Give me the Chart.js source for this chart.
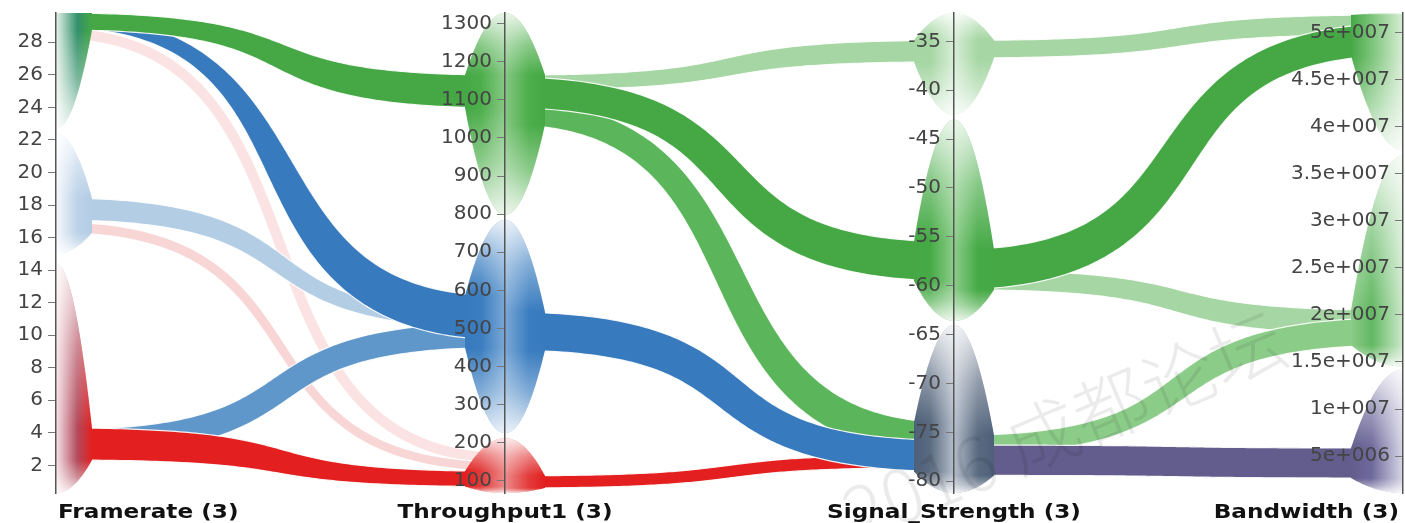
<!DOCTYPE html>
<html>
<head>
<meta charset="utf-8">
<script src="https://cdn.jsdelivr.net/npm/chart.js@4.4.1/dist/chart.umd.min.js"></script>
<style>
  html, body { margin: 0; padding: 0; background: #fff; }
  #wrap { width: 1405px; height: 523px; }
</style>
</head>
<body>
<div id="wrap"><canvas id="myChart"></canvas></div>
<script>
  // axes
  const dims = ['Framerate (3)', 'Throughput1 (3)', 'Signal_Strength (3)', 'Bandwidth (3)'];
  const axisMin = [0.3, 68, -81.2, 1.07e6];
  const axisMax = [29.8, 1328, -32.1, 5.21e7];

  const framerateTicks = [2, 4, 6, 8, 10, 12, 14, 16, 18, 20, 22, 24, 26, 28];
  const throughputTicks = [100, 200, 300, 400, 500, 600, 700, 800, 900, 1000, 1100, 1200, 1300];
  const signalTicks = [-80, -75, -70, -65, -60, -55, -50, -45, -40, -35];
  const bandwidthTicks = [5e6, 1e7, 1.5e7, 2e7, 2.5e7, 3e7, 3.5e7, 4e7, 4.5e7, 5e7];

  // clusters on each axis: [range low, range high, left neck [lo, hi], right neck [lo, hi]]
  const framerateClusters = [
    [22.7, 29.8, null, [28.76, 29.8]],
    [15.0, 22.4, null, [16.3, 18.43]],
    [0.3, 14.4, null, [2.33, 4.30]]
  ];
  const throughputClusters = [
    [798, 1328, [1079, 1165], [1035, 1165]],
    [225, 785, [450, 585], [443, 543]],
    [68, 212, [85, 125], [81, 113]]
  ];
  const signalClusters = [
    [-42.5, -32.1, [-37.1, -34.9], [-36.7, -34.9]],
    [-63.6, -43.0, [-59.5, -55.5], [-60.4, -56.3]],
    [-81.2, -64.0, [-79.0, -74.0], [-79.4, -75.3]]
  ];
  const bandwidthClusters = [
    [3.75e7, 5.21e7, [4.76e7, 5.19e7], null],
    [1.45e7, 3.70e7, [1.68e7, 2.05e7], null],
    [1.07e6, 1.42e7, [2.66e6, 5.85e6], null]
  ];

  // ribbons between neighbouring axes: [left lo, left hi, right lo, right hi]
  const framerateToThroughput = [
    [28.2, 28.9, 145, 175],
    [16.3, 16.95, 125, 150],
    [17.08, 18.43, 500, 540],
    [2.6, 4.2, 450, 515],
    [28.9, 29.7, 470, 585],
    [2.33, 4.30, 85, 125],
    [28.76, 29.8, 1079, 1165]
  ];
  const throughputToSignal = [
    [81, 113, -78.6, -77.3],
    [1035, 1100, -77.5, -74.0],
    [443, 543, -79.0, -75.8],
    [1126, 1165, -37.1, -34.9],
    [1079, 1160, -59.5, -55.5]
  ];
  const signalToBandwidth = [
    [-36.7, -34.9, 4.98e7, 5.19e7],
    [-60.4, -58.4, 1.79e7, 2.05e7],
    [-77.3, -75.3, 1.68e7, 1.97e7],
    [-79.4, -76.3, 2.66e6, 5.85e6],
    [-60.4, -56.3, 4.76e7, 5.10e7]
  ];

  const bandSets = [framerateToThroughput, throughputToSignal, signalToBandwidth];
  const bandColors = [
    ['#fbe3e3', '#f8d6d6', '#b3cde5', '#5f97ca', '#377abd', '#e3201f', '#45a845'],
    ['#e3201f', '#5bb55b', '#377abd', '#a5d6a3', '#45a845'],
    ['#a5d6a3', '#a5d6a3', '#8ccc89', '#625d8c', '#45a845']
  ];
  const clusterSets = [framerateClusters, throughputClusters, signalClusters, bandwidthClusters];
  // [near axis, middle, at neck]
  const clusterColors = [
    [['#e6f2ec', '#32906a', '#45a845'], ['#f6f8fc', '#bcd2e8', '#b3cde5'], ['#f6e2e7', '#b24a5c', '#e3201f']],
    [['#86c884', '#4cae4a', '#45a845'], ['#7aa8d6', '#3a7dc0', '#377abd'], ['#ee8a8a', '#e23a3a', '#e3201f']],
    [['#d8eed7', '#a5d6a3', '#a5d6a3'], ['#8ccd8a', '#45aa45', '#45a845'], ['#b4bdca', '#5a6a80', '#4d607a']],
    [['#d8eed6', '#7cc47a', '#45a845'], ['#cde9cb', '#62b862', '#8ccc89'], ['#d8d6e6', '#6f6a9c', '#625d8c']]
  ];
  const neckDist = [36, 40, 40, 52];

  function sci(v) {
    const e = Math.floor(Math.log10(v) + 1e-9);
    const m = Math.round(v / Math.pow(10, e) * 100) / 100;
    return m + 'e+' + String(e).padStart(3, '0');
  }
  const tickFormats = [v => String(v), v => String(v), v => String(v), sci];
  const axisTicks = [framerateTicks, throughputTicks, signalTicks, bandwidthTicks];

  // ribbon of varying width along a smooth centre line
  function ribbon(ctx, x0, t0, b0, x1, t1, b1, color) {
    const c0 = (t0 + b0) / 2, c1 = (t1 + b1) / 2;
    const w0 = b0 - t0, w1 = b1 - t1;
    const k = 0.65 * (x1 - x0);
    const N = 120;
    const top = [], bot = [];
    for (let j = 0; j <= N; j++) {
      const t = j / N, mt = 1 - t;
      const x = mt * mt * mt * x0 + 3 * mt * mt * t * (x0 + k) + 3 * mt * t * t * (x1 - k) + t * t * t * x1;
      const s = 3 * t * t - 2 * t * t * t;
      const y = c0 + (c1 - c0) * s;
      const dx = 3 * mt * mt * k + 6 * mt * t * (x1 - k - x0 - k) + 3 * t * t * k;
      const dy = (c1 - c0) * 6 * t * mt;
      const len = Math.hypot(dx, dy) || 1;
      const nx = -dy / len, ny = dx / len;
      const hw = (w0 + (w1 - w0) * s) / 2;
      top.push([x - nx * hw, y - ny * hw]);
      bot.push([x + nx * hw, y + ny * hw]);
    }
    ctx.beginPath();
    top.forEach(p => ctx.lineTo(p[0], p[1]));
    for (let j = bot.length - 1; j >= 0; j--) ctx.lineTo(bot[j][0], bot[j][1]);
    ctx.closePath();
    ctx.fillStyle = color;
    ctx.fill();
    ctx.strokeStyle = 'rgba(255,255,255,0.9)';
    ctx.lineWidth = 1.2;
    [top, bot].forEach(edge => {
      ctx.beginPath();
      edge.forEach(p => ctx.lineTo(p[0], p[1]));
      ctx.stroke();
    });
  }

  function drawBulge(ctx, ax, side, d, yTop, yBot, nTop, nBot, cols) {
    const N = 30;
    ctx.beginPath();
    for (let j = 0; j <= N; j++) {
      const u = j / N, f = 1 - u * u;
      ctx.lineTo(ax + side * d * u, nTop + (yTop - nTop) * f);
    }
    for (let j = N; j >= 0; j--) {
      const u = j / N, f = 1 - u * u;
      ctx.lineTo(ax + side * d * u, nBot + (yBot - nBot) * f);
    }
    ctx.closePath();
    const g = ctx.createLinearGradient(ax, 0, ax + side * d, 0);
    g.addColorStop(0, cols[0]);
    g.addColorStop(0.6, cols[1]);
    g.addColorStop(1, cols[2]);
    ctx.fillStyle = g;
    ctx.fill();
    // fade towards the ends of the range
    const h = yBot - yTop;
    const a = Math.min(Math.max((nTop - yTop) / h, 0), 1);
    const b = Math.min(Math.max((nBot - yTop) / h, a), 1);
    const v = ctx.createLinearGradient(0, yTop, 0, yBot);
    v.addColorStop(0, 'rgba(255,255,255,0.85)');
    v.addColorStop(a * 0.5, 'rgba(255,255,255,0.35)');
    v.addColorStop(a, 'rgba(255,255,255,0)');
    v.addColorStop(b, 'rgba(255,255,255,0)');
    v.addColorStop(b + (1 - b) * 0.5, 'rgba(255,255,255,0.35)');
    v.addColorStop(1, 'rgba(255,255,255,0.85)');
    ctx.fillStyle = v;
    ctx.fill();
  }

  const parallelSets = {
    id: 'parallelSets',
    beforeDraw(chart) {
      const ctx = chart.ctx;
      const px = i => chart.scales.x.getPixelForValue(i);
      const py = (i, v) => chart.scales['y' + i].getPixelForValue(v);
      ctx.save();
      bandSets.forEach((set, i) => {
        const x0 = px(i), x1 = px(i + 1);
        set.forEach((b, j) => {
          ribbon(ctx, x0, py(i, b[1]), py(i, b[0]), x1, py(i + 1, b[3]), py(i + 1, b[2]), bandColors[i][j]);
        });
      });
      clusterSets.forEach((set, i) => {
        const ax = px(i);
        set.forEach((c, j) => {
          const yTop = py(i, c[1]), yBot = py(i, c[0]);
          [[c[2], -1], [c[3], 1]].forEach(([neck, side]) => {
            if (!neck) return;
            drawBulge(ctx, ax, side, neckDist[i], yTop, yBot, py(i, neck[1]), py(i, neck[0]), clusterColors[i][j]);
          });
        });
      });
      ctx.restore();
    },
    afterDraw(chart) {
      const ctx = chart.ctx;
      const xs = chart.scales.x;
      ctx.save();
      // tick labels
      ctx.font = '20px "DejaVu Sans"';
      ctx.fillStyle = '#444';
      ctx.textAlign = 'right';
      ctx.textBaseline = 'middle';
      axisTicks.forEach((t, i) => {
        const s = chart.scales['y' + i];
        const ax = xs.getPixelForValue(i);
        s.ticks.forEach(tk => ctx.fillText(tickFormats[i](tk.value), ax - 13, s.getPixelForValue(tk.value)));
      });
      // axis titles, stretched a little like the original
      ctx.font = 'bold 19px "DejaVu Sans"';
      ctx.fillStyle = '#111';
      ctx.textBaseline = 'alphabetic';
      const stretch = 1.22;
      dims.forEach((d, i) => {
        const ax = xs.getPixelForValue(i);
        const w = ctx.measureText(d).width * stretch;
        let left = ax - w / 2;
        if (i === 0) left = ax + 2;
        if (i === dims.length - 1) left = ax - w - 4;
        ctx.save();
        ctx.translate(left, chart.chartArea.bottom + 25);
        ctx.scale(stretch, 1);
        ctx.textAlign = 'left';
        ctx.fillText(d, 0, 0);
        ctx.restore();
      });
      // watermark
      ctx.translate(1075, 452);
      ctx.rotate(-0.4);
      ctx.font = '300 74px "Noto Sans CJK SC"';
      ctx.fillStyle = 'rgba(0,0,0,0.08)';
      ctx.textAlign = 'center';
      ctx.fillText('2016 成都论坛', 0, 0);
      ctx.restore();
    }
  };

  const scales = {
    x: {
      type: 'linear',
      display: false,
      min: 0,
      max: 3
    }
  };
  axisTicks.forEach((t, i) => {
    scales['y' + i] = {
      type: 'linear',
      axis: 'y',
      position: { x: i },
      min: axisMin[i],
      max: axisMax[i],
      afterBuildTicks: s => { s.ticks = t.map(v => ({ value: v })); },
      grid: { drawOnChartArea: false, drawTicks: true, tickLength: 7, tickColor: '#777', tickWidth: 1 },
      border: { display: true, color: '#555', width: 1.5 },
      ticks: { display: false }
    };
  });

  const config = {
    type: 'line',
    data: { datasets: [] },
    options: {
      responsive: true,
      maintainAspectRatio: false,
      animation: false,
      events: [],
      scales,
      plugins: {
        legend: { display: false },
        tooltip: { enabled: false }
      },
      layout: {
        padding: { left: 56, right: 2, top: 13, bottom: 30 }
      }
    },
    plugins: [parallelSets]
  };

  const myChart = new Chart(document.getElementById('myChart'), config);
</script>
</body>
</html>
